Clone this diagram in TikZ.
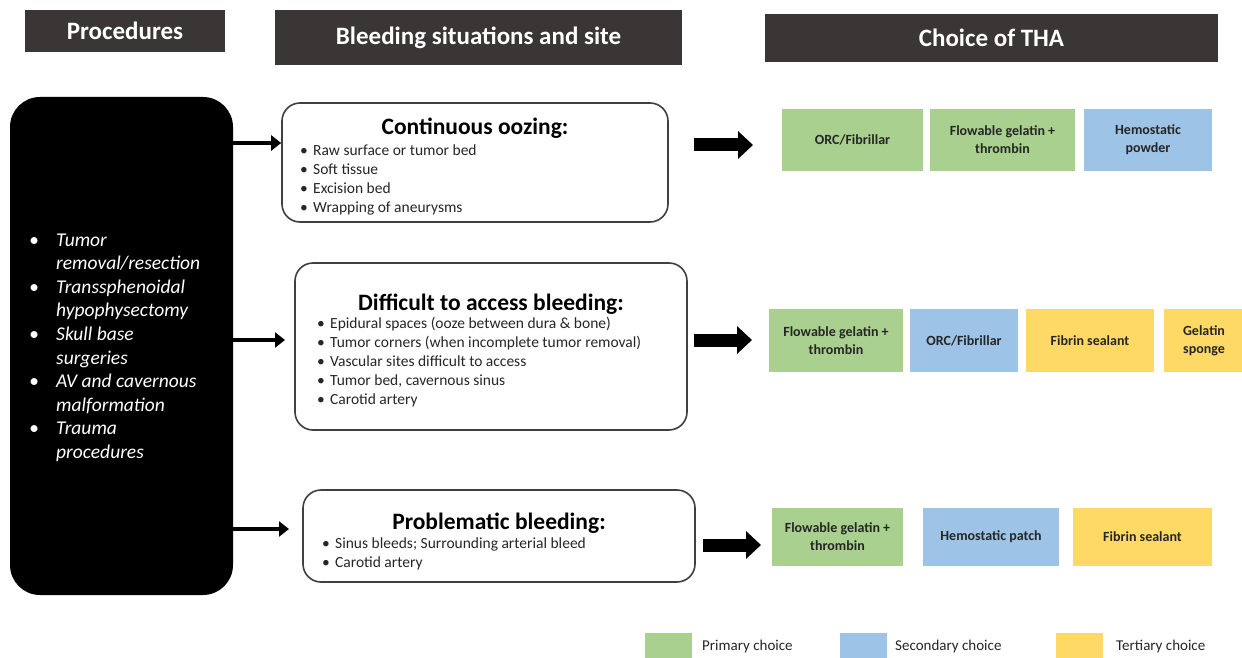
\documentclass[tikz,border=0pt]{standalone}
\usepackage{fontspec}
\setmainfont{Carlito}
\usetikzlibrary{arrows.meta}
\definecolor{hdrc}{HTML}{3A3636}
\definecolor{grnc}{HTML}{A9D08E}
\definecolor{bluc}{HTML}{9DC3E6}
\definecolor{yelc}{HTML}{FFD966}
\definecolor{boxc}{HTML}{404040}
\definecolor{txtc}{HTML}{262626}
\newcommand{\bl}{\makebox[13pt][l]{\textbullet}}
\newcommand{\lbl}{\makebox[27pt][l]{\textbullet}}
\newcommand{\lind}{\makebox[27pt][l]{}}
\newcommand{\blist}[1]{\begin{tabular}[t]{@{}l@{}}#1\end{tabular}}
\begin{document}
\begin{tikzpicture}[x=1pt,y=-1pt,
  hdr/.style={fill=hdrc, text=white, inner sep=0, font=\fontsize{25}{28}\selectfont\bfseries},
  sitbox/.style={draw=boxc, line width=1.6pt, rounded corners=18pt, fill=white, inner sep=0},
  ttl/.style={inner sep=0, anchor=base, text=black, font=\fontsize{23.5}{26}\selectfont\bfseries},
  blst/.style={inner sep=0, anchor=base west, text=txtc, font=\fontsize{15.5}{19}\selectfont},
  choice/.style={inner sep=0, align=center, text=txtc, font=\fontsize{14}{18}\selectfont\bfseries},
  grn/.style={choice, fill=grnc},
  blu/.style={choice, fill=bluc},
  yel/.style={choice, fill=yelc},
  leg/.style={inner sep=0, anchor=west, text=txtc, font=\fontsize{15}{18}\selectfont},
  arr/.style={line width=4pt, -{Triangle[length=10pt,width=15pt]}},
  bigarr/.style={line width=13pt, -{Triangle[length=15pt,width=27pt]}}
]
\useasboundingbox (0,0) rectangle (1242,658);
\fill[white] (0,0) rectangle (1242,658);

% headers
\node[hdr, minimum width=200pt, minimum height=42pt] (h1) at (125,31) {Procedures};
\node[hdr, minimum width=407pt, minimum height=55pt] (h2) at (478.5,37.5) {Bleeding situations and site};
\node[hdr, minimum width=453pt, minimum height=48pt] (h3) at (991.5,38) {Choice of THA};

% procedures box
\node[fill=black, rounded corners=30pt, minimum width=223pt, minimum height=498pt, inner sep=0] (proc) at (121.5,346) {};
\node[inner sep=0, anchor=base west, text=white, font=\fontsize{19.5}{23.6}\selectfont\itshape] (proctext) at (29,246)
  {\blist{\lbl Tumor\\ \lind removal/resection\\ \lbl Transsphenoidal\\ \lind hypophysectomy\\ \lbl Skull base\\ \lind surgeries\\ \lbl AV and cavernous\\ \lind malformation\\ \lbl Trauma\\ \lind procedures}};

% bleeding situation boxes
\node[sitbox, minimum width=386pt, minimum height=119pt] (b1) at (475,162.5) {};
\node[ttl] (t1) at (475,134.5) {Continuous oozing:};
\node[blst] (l1) at (300,155) {\blist{\bl Raw surface or tumor bed\\ \bl Soft tissue\\ \bl Excision bed\\ \bl Wrapping of aneurysms}};

\node[sitbox, minimum width=392pt, minimum height=167pt] (b2) at (491,346.5) {};
\node[ttl] (t2) at (491,310.5) {Difficult to access bleeding:};
\node[blst] (l2) at (317,328) {\blist{\bl Epidural spaces (ooze between dura \& bone)\\ \bl Tumor corners (when incomplete tumor removal)\\ \bl Vascular sites difficult to access\\ \bl Tumor bed, cavernous sinus\\ \bl Carotid artery}};

\node[sitbox, minimum width=392pt, minimum height=92pt] (b3) at (499,536) {};
\node[ttl] (t3) at (499,529.5) {Problematic bleeding:};
\node[blst] (l3) at (322,548) {\blist{\bl Sinus bleeds; Surrounding arterial bleed\\ \bl Carotid artery}};

% arrows from procedures
\coordinate (p2) at (285,340);
\coordinate (p3) at (289,529);
\draw[arr] (proc.east |- 0,143) -- (b1.west |- 0,143);
\draw[arr] (proc.east |- p2) -- (p2);
\draw[arr] (proc.east |- p3) -- (p3);

% big arrows
\coordinate (s1) at (694,145); \coordinate (e1) at (753,145);
\coordinate (s2) at (694,340); \coordinate (e2) at (752,340);
\coordinate (s3) at (703,545); \coordinate (e3) at (761,545);
\draw[bigarr] (s1) -- (e1);
\draw[bigarr] (s2) -- (e2);
\draw[bigarr] (s3) -- (e3);

% choices row 1
\node[grn, minimum width=141pt, minimum height=62pt] (c11) at (852.5,140) {ORC/Fibrillar};
\node[grn, minimum width=145pt, minimum height=62pt] (c12) at (1002.5,140) {Flowable gelatin +\\thrombin};
\node[blu, minimum width=128pt, minimum height=62pt] (c13) at (1148,140) {Hemostatic\\powder};

% choices row 2
\node[grn, minimum width=134pt, minimum height=63pt] (c21) at (836,340.5) {Flowable gelatin +\\thrombin};
\node[blu, minimum width=108pt, minimum height=63pt] (c22) at (964,340.5) {ORC/Fibrillar};
\node[yel, minimum width=128pt, minimum height=63pt] (c23) at (1090,340.5) {Fibrin sealant};
\node[yel, minimum width=80pt, minimum height=63pt] (c24) at (1204,340.5) {Gelatin\\sponge};

% choices row 3
\node[grn, minimum width=131pt, minimum height=58pt] (c31) at (837.5,537) {Flowable gelatin +\\thrombin};
\node[blu, minimum width=136pt, minimum height=58pt] (c32) at (991,537) {Hemostatic patch};
\node[yel, minimum width=139pt, minimum height=58pt] (c33) at (1142.5,537) {Fibrin sealant};

% legend
\node[fill=grnc, minimum width=47pt, minimum height=28pt, inner sep=0] (lg1) at (668,647) {};
\node[leg] (lt1) at (702,646) {Primary choice};
\node[fill=bluc, minimum width=47pt, minimum height=28pt, inner sep=0] (lg2) at (863,647) {};
\node[leg] (lt2) at (895,646) {Secondary choice};
\node[fill=yelc, minimum width=47pt, minimum height=28pt, inner sep=0] (lg3) at (1079,647) {};
\node[leg] (lt3) at (1116,646) {Tertiary choice};
\end{tikzpicture}
\end{document}
